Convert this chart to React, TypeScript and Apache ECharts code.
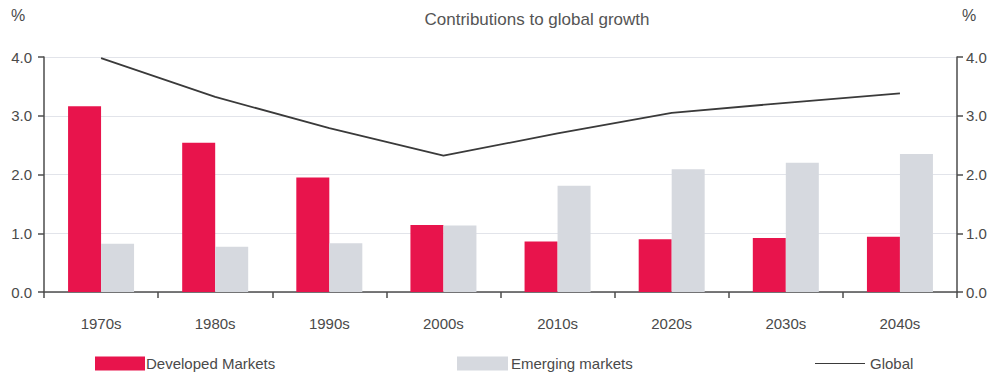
import React, { useEffect, useRef } from "react";
import * as echarts from "echarts";

const categories = ["1970s", "1980s", "1990s", "2000s", "2010s", "2020s", "2030s", "2040s"];
const developed = [3.16, 2.54, 1.95, 1.14, 0.86, 0.9, 0.92, 0.94];
const emerging = [0.82, 0.77, 0.83, 1.13, 1.81, 2.09, 2.2, 2.35];
const globalGrowth = [3.98, 3.32, 2.79, 2.32, 2.7, 3.05, 3.22, 3.38];
const yTicks = [0, 1, 2, 3, 4];

const FONT = "Liberation Sans, Arial, sans-serif";
const TEXT = "#4a4a4a";
const AXIS = "#4d4d4d";

export default function App() {
  const ref = useRef<HTMLDivElement>(null);
  useEffect(() => {
    if (!ref.current) return;
    const chart = echarts.init(ref.current, null, { renderer: "svg" });
    const yAxisBase = {
      type: "value" as const,
      min: yTicks[0],
      max: yTicks[yTicks.length - 1],
      interval: 1,
      axisLine: { show: true, lineStyle: { color: AXIS, width: 1.5 } },
      axisTick: { show: true, length: 6, lineStyle: { color: AXIS, width: 1.5 } },
      axisLabel: {
        color: TEXT,
        fontFamily: FONT,
        fontSize: 15,
        formatter: (v: number) => v.toFixed(1),
      },
    };
    const legendText = { color: TEXT, fontFamily: FONT, fontSize: 15 };
    chart.setOption({
      animation: false,
      backgroundColor: "#ffffff",
      title: {
        text: "Contributions to global growth",
        left: 532,
        top: 6,
        textAlign: "center",
        textStyle: { color: "#555", fontFamily: FONT, fontSize: 17, fontWeight: "normal" },
      },
      graphic: [
        { type: "text", left: 11, top: 7, style: { text: "%", fill: TEXT, font: `16px ${FONT}` } },
        { type: "text", left: 962, top: 7, style: { text: "%", fill: TEXT, font: `16px ${FONT}` } },
      ],
      grid: { left: 44, right: 47, top: 57, bottom: 91, containLabel: false },
      xAxis: {
        type: "category",
        data: categories,
        axisLine: { lineStyle: { color: AXIS, width: 1.5 } },
        axisTick: { show: true, length: 6, lineStyle: { color: AXIS, width: 1.5 } },
        axisLabel: { color: TEXT, fontFamily: FONT, fontSize: 15, margin: 24 },
      },
      yAxis: [
        {
          ...yAxisBase,
          position: "left",
          axisLabel: { ...yAxisBase.axisLabel, margin: 12 },
          splitLine: { show: true, lineStyle: { color: "#e2e4ea", width: 1 } },
        },
        {
          ...yAxisBase,
          position: "right",
          axisLabel: { ...yAxisBase.axisLabel, margin: 9 },
          splitLine: { show: false },
        },
      ],
      legend: [
        {
          left: 95,
          top: 356,
          padding: 0,
          itemWidth: 50,
          itemHeight: 14,
          icon: "rect",
          data: ["Developed Markets"],
          textStyle: { ...legendText, padding: [0, 0, 0, -4] },
        },
        {
          left: 457,
          top: 356,
          padding: 0,
          itemWidth: 51,
          itemHeight: 14,
          icon: "rect",
          data: ["Emerging markets"],
          textStyle: { ...legendText, padding: [0, 0, 0, -2] },
        },
        {
          left: 815,
          top: 356,
          padding: 0,
          itemWidth: 50,
          itemHeight: 14,
          icon: "path://M0 6 H100 V8 H0 Z",
          data: ["Global"],
          textStyle: legendText,
        },
      ],
      series: [
        {
          name: "Developed Markets",
          type: "bar",
          data: developed,
          barWidth: 33,
          barGap: "0%",
          itemStyle: { color: "#e8144c" },
        },
        {
          name: "Emerging markets",
          type: "bar",
          data: emerging,
          barWidth: 33,
          barGap: "0%",
          itemStyle: { color: "#d6d9df" },
        },
        {
          name: "Global",
          type: "line",
          data: globalGrowth,
          symbol: "none",
          lineStyle: { color: "#3a3a3a", width: 1.8 },
          itemStyle: { color: "#3a3a3a" },
        },
      ],
    });
    return () => chart.dispose();
  }, []);
  return <div ref={ref} style={{ width: 1004, height: 383, margin: -8 }} />;
}
